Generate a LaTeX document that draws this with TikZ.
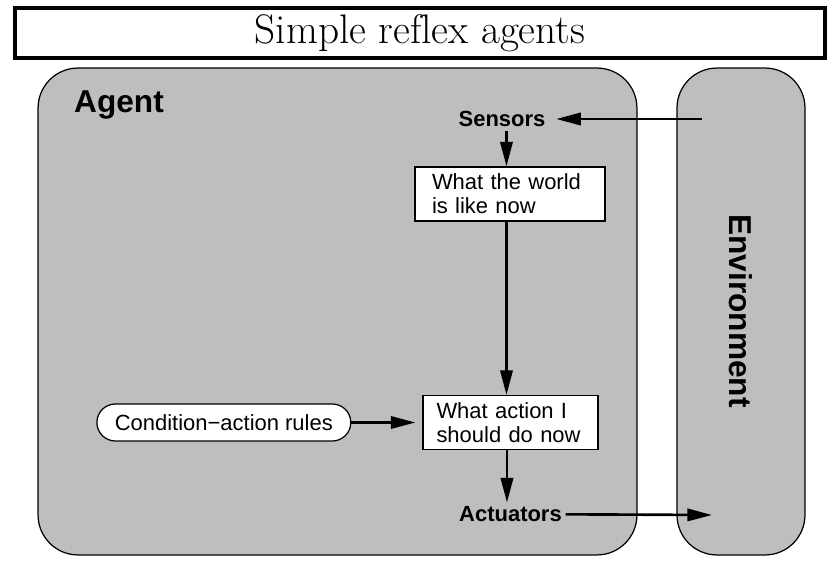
\documentclass[tikz,border=0pt]{standalone}
\usepackage{fontspec}
\usepackage{tikz}
\usetikzlibrary{arrows.meta,positioning}
\newfontfamily\arial{Liberation Sans}
\definecolor{agentgray}{HTML}{BEBEBE}

\begin{document}
\begin{tikzpicture}[
    x=0.02cm, y=-0.02cm,
    node distance=6mm,
    panel/.style={draw, rounded corners=0.8cm, fill=agentgray, line width=0.7pt},
    box/.style={draw, fill=white, align=left, inner ysep=4pt, line width=0.7pt,
                font=\arial\fontsize{12.5}{13.5}\selectfont},
    rules/.style={draw, fill=white, rounded corners=0.37cm, minimum height=0.74cm,
                  inner xsep=0.36cm, line width=0.7pt, font=\arial\fontsize{12.5}{14}\selectfont},
    label/.style={font=\arial\bfseries\fontsize{12.5}{14}\selectfont, inner sep=2pt},
    flow/.style={-{Triangle[length=14pt,width=7pt]}, line width=1.5pt}]
  \useasboundingbox (0,0) rectangle (840,574);
  \node[draw, line width=2.3pt, minimum width=16.2cm, minimum height=0.78cm,
        font=\fontsize{23.5}{26}\selectfont] (title) at (420,33) {Simple ref\kern0ptlex agents};
  \node[panel, minimum width=11.98cm, minimum height=9.74cm] (agent) at (337.5,311.5) {};
  \node[panel, minimum width=2.56cm, minimum height=9.74cm] (env) at (741,311.5) {};
  \node[font=\arial\bfseries\fontsize{18}{20}\selectfont, anchor=west] (agentlbl) at (68,105) {Agent};
  \node[font=\arial\bfseries\fontsize{18}{20}\selectfont, rotate=-90] (envlbl) at (741,311) {Environment};
  \node[label] (sensors) at (502,119) {Sensors};
  \node[box, inner xsep=0.34cm, text width=3.12cm, minimum height=1.08cm] (world) at (510,194)
    {What the world\\is like now};
  \node[box, inner xsep=0.27cm, text width=2.96cm, minimum height=1.02cm] (action) at (510.5,422.5)
    {What action I\\should do now};
  \node[rules, left=1.42cm of action] (rules) {Condition\char"2212action rules};
  \node[label, below=1.05cm of action] (actuators) {Actuators};
  \coordinate (envin) at (702,119);
  \coordinate (envout) at (712,515);
  \draw[flow, shorten >=4pt] (envin) -- (sensors);
  \draw[flow] ([xshift=-2pt]world.north |- sensors.south) -- ([xshift=-2pt]world.north);
  \draw[flow] ([xshift=-2pt]world.south) -- ([xshift=-2pt]world.south |- action.north);
  \draw[flow, shorten >=4pt] (rules) -- (action);
  \draw[flow] ([xshift=-2pt]action.south) -- ([xshift=-2pt]action.south |- actuators.north);
  \draw[flow] (actuators) -- (envout);
\end{tikzpicture}
\end{document}
